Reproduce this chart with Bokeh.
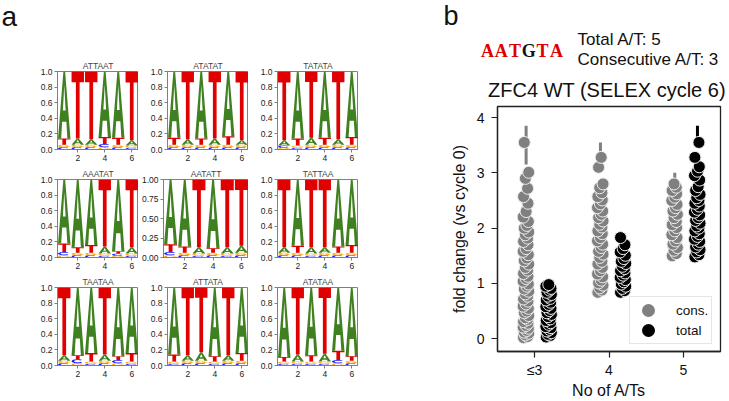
import numpy as np
from bokeh.plotting import figure
from bokeh.layouts import row, column
from bokeh.models import (Range1d, FixedTicker, PrintfTickFormatter, Legend, LegendItem,
                          ColumnDataSource, Spacer)
from bokeh.core.properties import value
from bokeh.embed import file_html
from bokeh.resources import INLINE

SANS = "Liberation Sans"

# ---------------- panel a data: sequence logos ----------------
LOGO_TITLES = ["ATTAAT", "ATATAT", "TATATA", "AAATAT", "AATATT", "TATTAA",
               "TAATAA", "ATTATA", "ATATAA"]
POSITIONS = [1, 2, 3, 4, 5, 6]
PROB_A = [
    [.86, .08, .07, .84, .85, .07],
    [.85, .07, .86, .08, .83, .06],
    [.07, .86, .09, .85, .07, .84],
    [.82, .87, .84, .09, .92, .08],
    [.83, .86, .08, .88, .08, .09],
    [.07, .85, .08, .07, .86, .84],
    [.07, .87, .84, .08, .88, .84],
    [.86, .07, .11, .88, .07, .84],
    [.89, .09, .87, .10, .81, .88],
]
PROB_T = [
    [.08, .86, .87, .09, .09, .88],
    [.09, .87, .08, .86, .11, .88],
    [.88, .09, .85, .09, .87, .10],
    [.11, .07, .10, .86, .03, .87],
    [.10, .08, .87, .06, .87, .85],
    [.87, .09, .87, .87, .08, .10],
    [.87, .05, .11, .86, .05, .11],
    [.09, .87, .83, .07, .87, .10],
    [.06, .86, .08, .85, .12, .06],
]
PROB_C = [
    [.03, .03, .03, .04, .03, .02],
    [.03, .03, .03, .03, .03, .03],
    [.03, .02, .03, .03, .03, .03],
    [.04, .03, .03, .02, .03, .02],
    [.04, .03, .02, .03, .02, .03],
    [.03, .03, .02, .03, .03, .03],
    [.03, .05, .02, .03, .04, .02],
    [.02, .03, .03, .02, .03, .03],
    [.02, .02, .02, .02, .04, .03],
]
PROB_G = [
    [.03, .03, .03, .03, .03, .03],
    [.03, .03, .03, .03, .03, .03],
    [.02, .03, .03, .03, .03, .03],
    [.03, .03, .03, .03, .02, .03],
    [.03, .03, .03, .03, .03, .03],
    [.03, .03, .03, .03, .03, .03],
    [.03, .03, .03, .03, .03, .03],
    [.03, .03, .03, .03, .03, .03],
    [.03, .03, .03, .03, .03, .03],
]

# ---------------- panel b data: strip plot ----------------
CATEGORIES = ["≤3", "4", "5"]
cons_le3 = [0.02, 0.04, 0.07, 0.10, 0.12, 0.15, 0.19, 0.21, 0.24, 0.28, 0.31, 0.35, 0.38,
            0.42, 0.47, 0.50, 0.55, 0.59, 0.63, 0.68, 0.72, 0.77, 0.81, 0.86, 0.90, 0.95,
            0.99, 1.04, 1.09, 1.13, 1.18, 1.24, 1.29, 1.35, 1.41, 1.46, 1.52, 1.58, 1.63,
            1.70, 1.76, 1.82, 1.88, 1.93, 2.00, 2.05, 2.12, 2.20, 2.30, 2.45, 2.57, 2.72,
            2.90, 3.01, 3.55]
cons_4 = [0.84, 0.88, 0.92, 0.97, 1.01, 1.06, 1.12, 1.17, 1.23, 1.29, 1.35, 1.40, 1.47,
          1.53, 1.58, 1.65, 1.71, 1.77, 1.83, 1.90, 1.95, 2.02, 2.07, 2.13, 2.19, 2.25,
          2.31, 2.37, 2.44, 2.51, 2.57, 2.64, 2.73, 2.80, 3.10, 3.28]
cons_5 = [1.50, 1.54, 1.60, 1.65, 1.71, 1.77, 1.83, 1.88, 1.95, 2.01, 2.06, 2.12, 2.19,
          2.25, 2.31, 2.37, 2.43, 2.50, 2.56, 2.62, 2.68, 2.74, 2.80]
total_le3 = [0.03, 0.06, 0.08, 0.11, 0.14, 0.17, 0.20, 0.22, 0.26, 0.29, 0.33, 0.36, 0.40,
             0.44, 0.47, 0.51, 0.55, 0.58, 0.62, 0.66, 0.70, 0.73, 0.77, 0.80, 0.84, 0.88,
             0.91, 0.95, 0.98]
total_4 = [0.84, 0.87, 0.91, 0.95, 0.99, 1.03, 1.07, 1.11, 1.15, 1.19, 1.23, 1.27, 1.31,
           1.36, 1.40, 1.45, 1.51, 1.57, 1.63, 1.70, 1.83]
total_5 = [1.48, 1.52, 1.57, 1.61, 1.66, 1.71, 1.76, 1.80, 1.85, 1.90, 1.95, 2.00, 2.04,
           2.09, 2.14, 2.19, 2.24, 2.29, 2.34, 2.40, 2.45, 2.50, 2.55, 2.61, 2.68, 2.75,
           2.87, 2.95, 3.03, 3.11, 3.28, 3.55]
WHISKER_CAT = [0, 1, 2, 2]
WHISKER_HUE = ["cons.", "cons.", "cons.", "total"]
WHISKER_LO = [3.15, 3.38, 2.88, 3.62]
WHISKER_HI = [3.85, 3.55, 3.00, 3.85]
HUES = ["cons.", "total"]

# ---------------- styling constants ----------------
HUE_OFFSET = {"cons.": -0.115, "total": 0.19}
HUE_COLOR = {"cons.": "#808080", "total": "#000000"}
JITTER = [-0.035, 0.02, -0.01, 0.035, -0.025, 0.01, 0.03, -0.04, 0.0, 0.025]
LETTER_COLORS = {"A": "#3f8020", "C": "#1414ff", "G": "#ffa500", "T": "#e00000"}
LETTER_W = 0.92


def arc_ring(a0, a1, rin=0.6):
    t = np.radians(np.linspace(a0, a1, 40))
    ox = 0.5 * np.cos(t)
    oy = 0.5 + 0.5 * np.sin(t)
    ix = rin * 0.5 * np.cos(t[::-1])
    iy = 0.5 + rin * 0.5 * np.sin(t[::-1])
    return list(np.concatenate([ox, ix])), list(np.concatenate([oy, iy]))


cx, cy = arc_ring(45, 315)
gx, gy = arc_ring(40, 330)
TEMPLATES = {
    "T": ([[[-0.5, 0.5, 0.5, 0.15, 0.15, -0.15, -0.15, -0.5]]],
          [[[1.0, 1.0, 0.84, 0.84, 0.0, 0.0, 0.84, 0.84]]]),
    "A": ([[[-0.5, -0.07, 0.07, 0.5, 0.25, 0.17, -0.17, -0.25], [-0.11, 0.11, 0.0]]],
          [[[0.0, 1.0, 1.0, 0.0, 0.0, 0.25, 0.25, 0.0], [0.42, 0.42, 0.80]]]),
    "C": ([[cx]], [[cy]]),
    "G": ([[gx], [[0.05, 0.5, 0.5, 0.05]]], [[gy], [[0.40, 0.40, 0.54, 0.54]]]),
}


def blank_fig(w, h):
    f = figure(width=w, height=h, x_range=Range1d(0, w), y_range=Range1d(h, 0),
               output_backend="svg", toolbar_location=None, min_border=0,
               min_border_left=0, min_border_right=0, min_border_top=0, min_border_bottom=0,
               x_axis_type=None, y_axis_type=None, frame_align=False)
    f.outline_line_color = None
    f.grid.visible = False
    return f


def logo_fig(k):
    wide = LOGO_TITLES[k] == "AATATT"
    f = figure(width=110, height=108, x_range=Range1d(0.5, 6.5), y_range=Range1d(0, 1),
               output_backend="svg", toolbar_location=None, frame_align=False,
               min_border_left=25 if wide else 29, min_border_right=0,
               min_border_top=13, min_border_bottom=16, title=LOGO_TITLES[k])
    f.title.text_font = SANS
    f.title.text_font_size = "8.5px"
    f.title.text_font_style = "normal"
    f.title.align = "center"
    f.title.standoff = 2
    f.title.offset = 0
    xs, ys, cols = [], [], []
    for j, pos in enumerate(POSITIONS):
        probs = {"A": PROB_A[k][j], "C": PROB_C[k][j], "G": PROB_G[k][j], "T": PROB_T[k][j]}
        tot = sum(probs.values())
        base = 0.0
        for L in sorted(probs, key=lambda q: probs[q]):
            h = probs[L] / tot
            tx, ty = TEMPLATES[L]
            xs.append([[[pos + LETTER_W * x for x in ring] for ring in poly] for poly in tx])
            ys.append([[[base + h * y for y in ring] for ring in poly] for poly in ty])
            cols.append(LETTER_COLORS[L])
            base += h
    src = ColumnDataSource(dict(xs=xs, ys=ys, c=cols))
    f.multi_polygons(xs="xs", ys="ys", fill_color="c", line_color=None, source=src)
    f.grid.visible = False
    f.outline_line_color = "#808080"
    f.xaxis.ticker = FixedTicker(ticks=[2, 4, 6])
    if wide:
        f.yaxis.ticker = FixedTicker(ticks=[0, 0.25, 0.5, 0.75, 1.0])
        f.yaxis.formatter = PrintfTickFormatter(format="%.2f")
    else:
        f.yaxis.ticker = FixedTicker(ticks=[0, 0.2, 0.4, 0.6, 0.8, 1.0])
        f.yaxis.formatter = PrintfTickFormatter(format="%.1f")
    for ax in (f.xaxis, f.yaxis):
        ax.axis_line_color = "#808080"
        ax.major_tick_line_color = "#808080"
        ax.major_tick_in = 0
        ax.major_tick_out = 3
        ax.minor_tick_line_color = None
        ax.major_label_text_font = SANS
        ax.major_label_text_font_size = "8.5px"
        ax.major_label_text_color = "#222222"
        ax.major_label_standoff = 2
    return f


# ---------------- panel a layout ----------------
head_a = blank_fig(358, 57)
head_a.text(x=[1], y=[16], text=["a"], text_font=value(SANS), text_font_size="28px",
            text_baseline="middle", text_align="left", text_color="#111111")
logos = [logo_fig(k) for k in range(9)]
rows_a = [row(Spacer(width=28, height=108), *logos[3 * r:3 * r + 3]) for r in range(3)]
col_a = column(head_a, *rows_a)

# ---------------- panel b ----------------
head_b = blank_fig(371, 103)
head_b.text(x=[85], y=[15.2], text=["b"], text_font=value(SANS), text_font_size="27px",
            text_baseline="middle", text_align="left", text_color="#111111")
SEQ = "AATGTA"
head_b.text(x=[128.9 + 13.8 * i for i in range(len(SEQ))], y=[50.3] * len(SEQ),
            text=list(SEQ), text_font=value("Liberation Serif"), text_font_size="18px",
            text_font_style="bold", text_baseline="middle", text_align="center",
            text_color=["#dd0000" if ch in "AT" else "#111111" for ch in SEQ])
head_b.text(x=[219, 219], y=[39.3, 58.6], text=["Total A/T: 5", "Consecutive A/T: 3"],
            text_font=value(SANS), text_font_size="17px", text_baseline="middle",
            text_align="left", text_color="#111111")
head_b.text(x=[248.5], y=[89.3], text=["ZFC4 WT (SELEX cycle 6)"], text_font=value(SANS),
            text_font_size="20px", text_baseline="middle", text_align="center",
            text_color="#111111")

pb = figure(width=371, height=298, x_range=Range1d(-0.5, 2.5), y_range=Range1d(-0.23, 4.2),
            output_backend="svg", toolbar_location=None, min_border_left=139,
            min_border_right=9, min_border_top=3, min_border_bottom=47, frame_align=False)
pb.grid.visible = False
pb.outline_line_color = "#222222"
pb.outline_line_width = 1.3

# whiskers
wsrc = ColumnDataSource(dict(
    x=[c + HUE_OFFSET[h] for c, h in zip(WHISKER_CAT, WHISKER_HUE)],
    lo=WHISKER_LO, hi=WHISKER_HI, col=[HUE_COLOR[h] for h in WHISKER_HUE]))
pb.segment(x0="x", y0="lo", x1="x", y1="hi", line_color="col", line_width=3, source=wsrc)

items = []
for hue, groups in (("cons.", [cons_le3, cons_4, cons_5]), ("total", [total_le3, total_4, total_5])):
    xs, ys = [], []
    for ci, vals in enumerate(groups):
        for i, v in enumerate(vals):
            xs.append(ci + HUE_OFFSET[hue] + JITTER[i % len(JITTER)])
            ys.append(v)
    src = ColumnDataSource(dict(x=xs, y=ys))
    pb.scatter(x="x", y="y", source=src, size=12, marker="circle",
               fill_color=HUE_COLOR[hue], line_color="#eeeeee", line_width=1)
    # zero-size twin renderer on the same data: invisible in the plot, but it gives the
    # legend a solid swatch of the right diameter
    sw = pb.scatter(x="x", y="y", source=src, size=0, marker="circle",
                    fill_color=HUE_COLOR[hue], line_color=HUE_COLOR[hue], line_width=5)
    items.append(LegendItem(label=hue, renderers=[sw]))

legend = Legend(items=items, location=(132, 7), glyph_width=30, glyph_height=20,
                spacing=0, padding=3, label_standoff=13, label_height=18,
                label_text_font=SANS, label_text_font_size="13.5px",
                label_text_color="#111111",
                border_line_color="#cccccc", border_line_width=1,
                background_fill_alpha=0.85)
pb.add_layout(legend)

pb.xaxis.ticker = FixedTicker(ticks=list(range(len(CATEGORIES))))
pb.xaxis.major_label_overrides = {i: c for i, c in enumerate(CATEGORIES)}
pb.yaxis.ticker = FixedTicker(ticks=[0, 1, 2, 3, 4])
pb.xaxis.axis_label = "No of A/Ts"
pb.yaxis.axis_label = "fold change (vs cycle 0)"
for ax in (pb.xaxis, pb.yaxis):
    ax.axis_line_color = "#222222"
    ax.axis_line_width = 1.3
    ax.major_tick_line_color = "#222222"
    ax.major_tick_line_width = 1.2
    ax.major_tick_in = 0
    ax.major_tick_out = 6
    ax.minor_tick_line_color = None
    ax.major_label_text_font = SANS
    ax.major_label_text_font_size = "14px"
    ax.major_label_text_color = "#111111"
    ax.axis_label_text_font = SANS
    ax.axis_label_text_font_size = "16px"
    ax.axis_label_text_font_style = "normal"
    ax.axis_label_text_color = "#111111"
pb.xaxis.major_label_standoff = 4
pb.xaxis.axis_label_standoff = 1
pb.yaxis.major_label_standoff = 7
pb.yaxis.axis_label_standoff = 6

col_b = column(head_b, pb)
layout = row(col_a, col_b)

open("out.html", "w").write(file_html(layout, INLINE))
